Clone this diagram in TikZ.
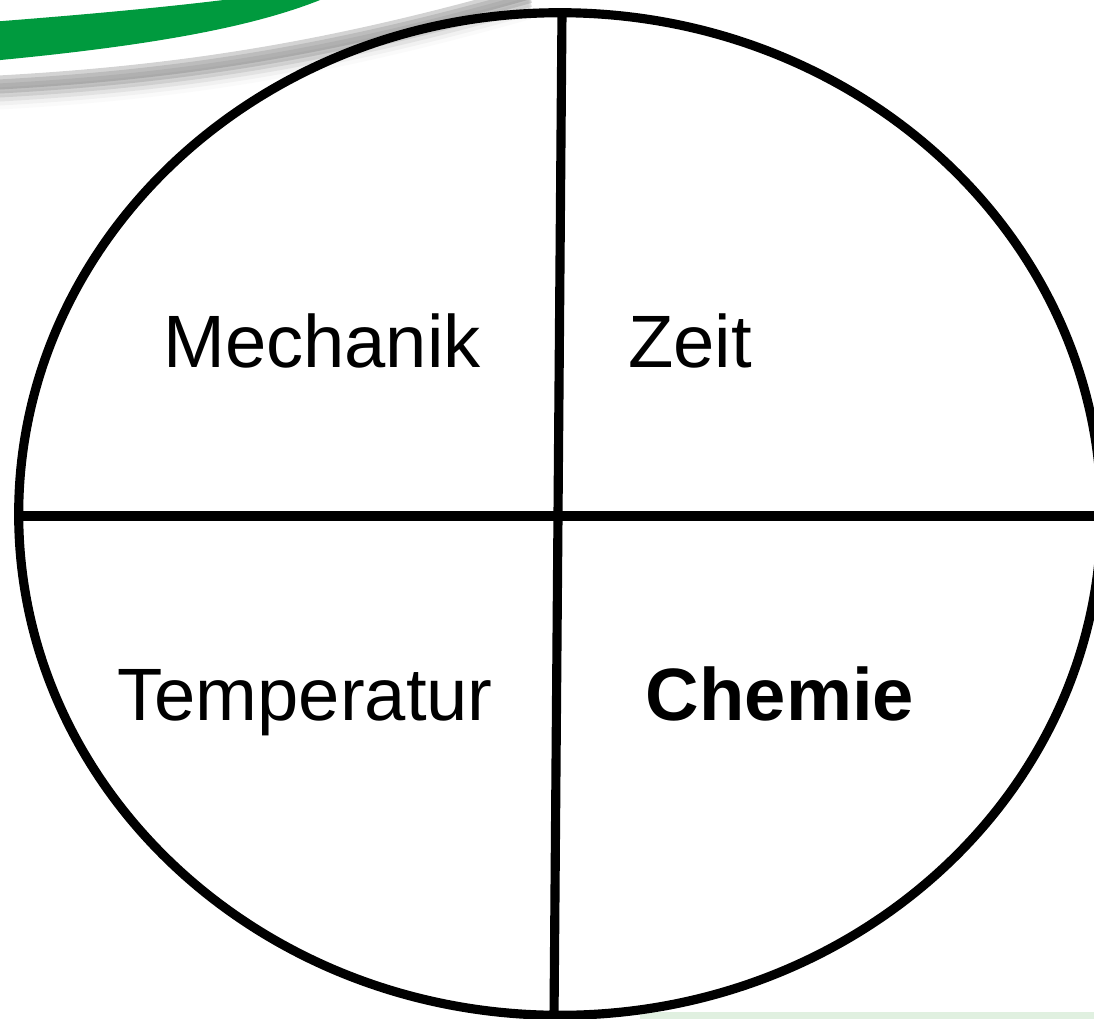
\documentclass[tikz,border=0pt]{standalone}
\usepackage{fontspec}
\setmainfont{Liberation Sans}
\usetikzlibrary{positioning}
\definecolor{folienGruen}{RGB}{0,154,62}

\begin{document}
\begin{tikzpicture}[
    x=0.01cm, y=-0.01cm,
    % Style for the four labels
    feld/.style={
        anchor=base,
        inner sep=0pt,
        font=\fontsize{21.1}{25}\selectfont
    },
    % Style for the ellipse and the dividing lines
    linie/.style={
        draw=black,
        line width=2.6pt
    }
]
    \useasboundingbox (0,0) rectangle (1094,1018);

    % Green swoosh of the slide with its shadow
    \foreach \k/\o in {0/.35,4/.28,8/.20,12/.13,16/.08,20/.04} {
        \draw[gray, line width=4pt, opacity=\o, shift={(0,\k)}]
            (-10,83) .. controls (180,73) and (330,49) .. (530,-8);
    }
    \fill[folienGruen] (-10,22) .. controls (80,15) and (160,8) .. (240,-2)
        -- (325,-2) .. controls (255,27) and (150,46) .. (-10,61) -- cycle;
    \draw[green!50!black, opacity=.12, line width=2pt] (640,1016) -- (1094,1016);

    % Ellipse and quadrants
    \coordinate (mitte) at (560,514);
    \coordinate (oben) at (562,12);
    \coordinate (unten) at (554,1018);
    \coordinate (links) at (19,516);
    \coordinate (rechts) at (1094,516);

    \draw[linie] (mitte) ellipse [x radius=5.41cm, y radius=5.01cm];
    \draw[linie] (oben) -- (unten);
    \draw[linie] (links) -- (rechts);

    % Labels
    \node[feld] (mechanik) at (322,367) {Mechanik};
    \node[feld] (zeit) at (690,367) {Zeit};
    \node[feld] (temperatur) at (305,720) {Temperatur};
    \node[feld, font=\fontsize{21.1}{25}\selectfont\bfseries] (chemie) at (780,720) {Chemie};

\end{tikzpicture}
\end{document}
